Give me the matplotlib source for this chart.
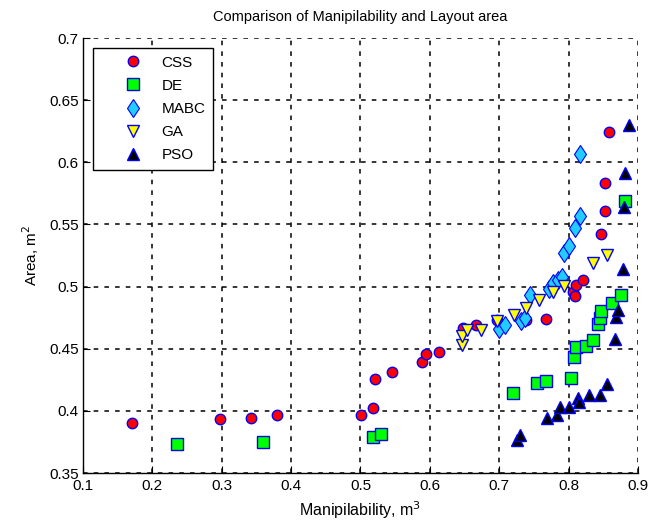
import matplotlib
matplotlib.use("Agg")
import matplotlib.pyplot as plt

# Manipulability (m^3) vs layout area (m^2) for each optimiser
css_x = [0.171, 0.298, 0.342, 0.379, 0.501, 0.518, 0.521, 0.545, 0.589, 0.595,
         0.613, 0.648, 0.666, 0.697, 0.739, 0.767, 0.806, 0.809, 0.810, 0.821,
         0.846, 0.853, 0.853, 0.858]
css_y = [0.390, 0.3935, 0.3946, 0.3965, 0.3965, 0.4027, 0.4256, 0.4312, 0.4393, 0.446,
         0.447, 0.4667, 0.4694, 0.4734, 0.4734, 0.474, 0.496, 0.4922, 0.5016, 0.5056,
         0.5425, 0.5607, 0.5836, 0.624]

de_x = [0.236, 0.359, 0.518, 0.530, 0.720, 0.755, 0.768, 0.803, 0.808, 0.810,
        0.825, 0.835, 0.842, 0.845, 0.846, 0.862, 0.876, 0.881]
de_y = [0.373, 0.3748, 0.3793, 0.3812, 0.4143, 0.4228, 0.4242, 0.4264, 0.4433, 0.451,
        0.4519, 0.4567, 0.470, 0.475, 0.4806, 0.4869, 0.4935, 0.5688]

mabc_x = [0.700, 0.708, 0.732, 0.737, 0.745, 0.772, 0.778, 0.785, 0.791, 0.793,
          0.800, 0.809, 0.816, 0.817]
mabc_y = [0.466, 0.469, 0.472, 0.475, 0.493, 0.498, 0.503, 0.505, 0.508, 0.527,
          0.533, 0.547, 0.557, 0.607]

ga_x = [0.647, 0.647, 0.654, 0.674, 0.697, 0.721, 0.738, 0.757, 0.778, 0.793,
        0.835, 0.856]
ga_y = [0.4532, 0.4605, 0.4648, 0.4653, 0.4722, 0.4769, 0.4828, 0.489, 0.4954, 0.5008,
        0.5186, 0.5253]

pso_x = [0.726, 0.730, 0.7685, 0.783, 0.788, 0.800, 0.8136, 0.815, 0.8296, 0.845,
         0.8555, 0.8665, 0.869, 0.8716, 0.878, 0.880, 0.881, 0.887]
pso_y = [0.3766, 0.3806, 0.394, 0.3968, 0.4035, 0.4035, 0.4102, 0.4075, 0.4129, 0.4129,
         0.4218, 0.4578, 0.4756, 0.4815, 0.5143, 0.5643, 0.5917, 0.6298]

x_ticks = [0.1, 0.2, 0.3, 0.4, 0.5, 0.6, 0.7, 0.8, 0.9]
y_ticks = [0.35, 0.4, 0.45, 0.5, 0.55, 0.6, 0.65, 0.7]

plt.rcParams['font.family'] = ['Liberation Sans', 'DejaVu Sans']

fig = plt.figure(figsize=(6.65, 5.25), dpi=100)
ax = fig.add_axes([0.1248, 0.099, 0.8346, 0.8286])

edge = '#0000ff'
ax.plot(css_x, css_y, 'o', ms=7.5, mfc='#ff0000', mec=edge, mew=1, label='CSS', zorder=3)
ax.plot(de_x, de_y, 's', ms=8, mfc='#00ff00', mec=edge, mew=1, label='DE', zorder=3)
ax.plot(mabc_x, mabc_y, 'd', ms=9.5, mfc='#22ccff', mec=edge, mew=0.8, label='MABC', zorder=3)
ax.plot(ga_x, ga_y, 'v', ms=8.5, mfc='#ffff00', mec=edge, mew=1, label='GA', zorder=3)
ax.plot(pso_x, pso_y, '^', ms=8.5, mfc='#000000', mec=edge, mew=1, label='PSO', zorder=3)

ax.set_xlim(0.1, 0.9)
ax.set_ylim(0.35, 0.7)
ax.set_xticks(x_ticks)
ax.set_yticks(y_ticks)
ax.set_xticklabels([f'{v:g}' for v in x_ticks])
ax.set_yticklabels([f'{v:g}' for v in y_ticks])
ax.tick_params(direction='in', length=5, labelsize=11, pad=3)
ax.tick_params(axis='x', pad=4)

ax.grid(True, color='black', linestyle=(0, (3, 4)), linewidth=1.1)
ax.set_axisbelow(True)
for side in ['top', 'right']:
    ax.spines[side].set_visible(False)
for side in ['left', 'bottom']:
    ax.spines[side].set_linewidth(1)

ax.set_title('Comparison of Manipilability and Layout area', fontsize=10.5, pad=12)
ax.set_xlabel('Manipilability, m$^3$', fontsize=11.5, labelpad=5)
ax.set_ylabel('Area, m$^2$', fontsize=11, labelpad=6)

leg = ax.legend(loc='upper left', bbox_to_anchor=(0.018, 0.977), fontsize=11,
                frameon=True, fancybox=False, edgecolor='black', framealpha=1,
                borderpad=0.5, labelspacing=0.6, handletextpad=-0.3,
                handlelength=4.3, borderaxespad=0)
leg.get_frame().set_linewidth(1)

fig.savefig('out.png', dpi=100)
